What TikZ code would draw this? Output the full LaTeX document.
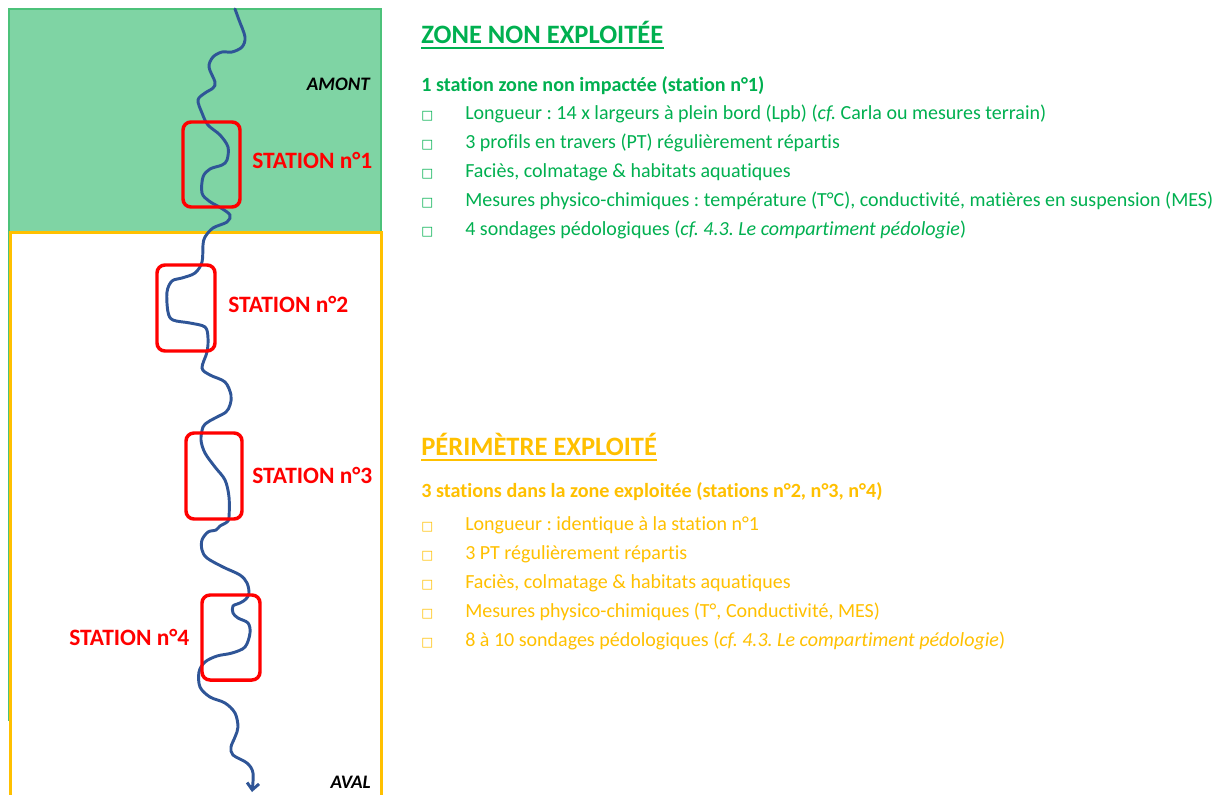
\documentclass[tikz,border=0pt]{standalone}
\usepackage{fontspec}
\setmainfont[Ligatures=NoCommon]{Carlito}
\newfontfamily\symfont{DejaVu Sans}
\usetikzlibrary{arrows.meta}
\definecolor{zgreen}{HTML}{00B050}
\definecolor{zfill}{HTML}{7FD4A4}
\definecolor{zedge}{HTML}{4CC27A}
\definecolor{zyellow}{HTML}{FFC000}
\definecolor{river}{HTML}{2F5597}
\definecolor{sred}{HTML}{FF0000}
\frenchspacing
\begin{document}
\begin{tikzpicture}[x=0.75pt,y=-0.75pt,
  stationbox/.style={draw=sred,line width=2.6pt,rounded corners=6pt},
  stationlbl/.style={text=sred,font=\fontsize{17.6}{20}\selectfont\bfseries,anchor=base west,inner sep=0pt},
  endlbl/.style={font=\fontsize{14.3}{17}\selectfont\bfseries\itshape,anchor=base east,inner sep=0pt},
  heading/.style={font=\fontsize{19.9}{23}\selectfont\bfseries,anchor=base west,inner sep=0pt},
  subhead/.style={font=\fontsize{15.1}{18}\selectfont\bfseries,anchor=base west,inner sep=0pt},
  itemtxt/.style={font=\fontsize{15}{18}\selectfont,anchor=base west,inner sep=0pt},
  bul/.style={font=\symfont\fontsize{9.5}{11}\selectfont,anchor=base west,inner sep=0pt},
  ]
\useasboundingbox (0,0) rectangle (1227,794);
\fill[white] (0,0) rectangle (1227,794);
\clip (0,0) rectangle (1227,794);
% zones
\draw[draw=zedge,line width=1.5pt,fill=zfill] (9,9) rectangle (381,720);
\draw[draw=zyellow,line width=2.25pt,fill=white] (10,232) rectangle (381,810);
% river
\draw[river,line width=2.2pt,line cap=round,-{Straight Barb[length=5pt,width=9pt]}]
  plot[smooth,tension=0.55] coordinates {
  (235,9) (239,20) (245,37) (242,47) (232,52) (222,52) (213,57) (209,67) (215,82)
  (213,88) (205,93) (198,100) (202,113) (208,125) (220,135) (228,147) (227,160)
  (222,165) (210,169) (203,177) (202,193) (209,201) (221,208) (230,215) (227,222)
  (213,228) (205,237) (203,245) (202,262) (195,273) (182,278) (172,281) (167,292)
  (168,312) (173,320) (190,323) (205,327) (208,338) (207,352) (202,368) (210,375)
  (225,382) (231,395) (230,405) (226,412) (217,417) (208,422) (203,427) (201,440)
  (205,453) (215,467) (225,480) (229,497) (229,517) (227,522) (220,526) (216,530)
  (208,532) (202,540) (202,550) (207,558) (223,567) (240,575) (247,583) (249,593)
  (246,599) (240,603) (233,606) (233,613) (238,618) (248,623) (250,633) (245,647)
  (232,653) (217,656) (205,662) (199,672) (200,687) (210,697) (225,703) (235,713)
  (238,727) (235,737) (231,747) (233,755) (247,763) (253,773) (252,792)};
% stations
\draw[stationbox] (183,122) rectangle (240,207);
\draw[stationbox] (157,265) rectangle (215,351);
\draw[stationbox] (186,433) rectangle (242,519);
\draw[stationbox] (202,595) rectangle (260,680);
\node[stationlbl] (l1) at (252,168) {STATION n°1};
\node[stationlbl] (l2) at (228,312) {STATION n°2};
\node[stationlbl] (l3) at (252,483) {STATION n°3};
\node[stationlbl] (l4) at (69,645) {STATION n°4};
\node[endlbl] (amont) at (370,90) {AMONT};
\node[endlbl] (aval) at (371,788) {AVAL};
% green text
\node[heading,text=zgreen] (h1) at (421,43) {ZONE NON EXPLOITÉE};
\draw[zgreen,line width=1.3pt] ([yshift=-3.8pt]h1.base west) -- ([yshift=-3.8pt]h1.base east);
\node[subhead,text=zgreen] (s1) at (421,91) {1 station zone non impactée (station n°1)};
\foreach \y/\t [count=\i] in {
  119/{Longueur : 14 x largeurs à plein bord (Lpb) (\textit{cf.} Carla ou mesures terrain)},
  148/{3 profils en travers (PT) régulièrement répartis},
  177/{Faciès, colmatage \& habitats aquatiques},
  206/{Mesures physico-chimiques : température (T°C), conductivité, matières en suspension (MES)},
  235/{4 sondages pédologiques (\textit{cf. 4.3. Le compartiment pédologie})}} {
  \node[bul,text=zgreen] (gb\i) at (421,\y) {□};
  \node[itemtxt,text=zgreen] (gt\i) at (465,\y) {\t};
}
% yellow text
\node[heading,text=zyellow] (h2) at (421,455) {PÉRIMÈTRE EXPLOITÉ};
\draw[zyellow,line width=1.3pt] ([yshift=-3.8pt]h2.base west) -- ([yshift=-3.8pt]h2.base east);
\node[subhead,text=zyellow] (s2) at (421,497) {3 stations dans la zone exploitée (stations n°2, n°3, n°4)};
\foreach \y/\t [count=\i] in {
  530/{Longueur : identique à la station n°1},
  559/{3 PT régulièrement répartis},
  588/{Faciès, colmatage \& habitats aquatiques},
  617/{Mesures physico-chimiques (T°, Conductivité, MES)},
  646/{8 à 10 sondages pédologiques (\textit{cf. 4.3. Le compartiment pédologie})}} {
  \node[bul,text=zyellow] (yb\i) at (421,\y) {□};
  \node[itemtxt,text=zyellow] (yt\i) at (465,\y) {\t};
}
\end{tikzpicture}
\end{document}
